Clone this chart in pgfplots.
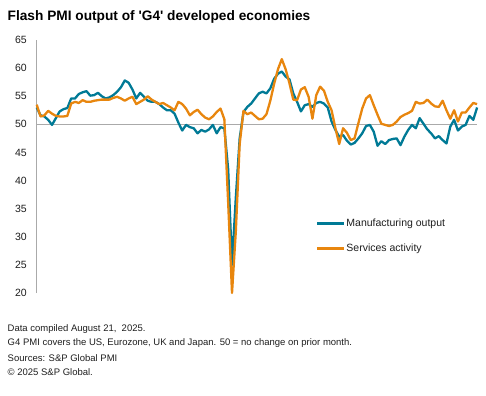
\documentclass[border=0pt]{standalone}
\usepackage{fontspec}
\setmainfont{Liberation Sans}
\usepackage{pgfplots}
\usepackage{pgfplotstable}
\pgfplotsset{compat=1.18}
\definecolor{manu}{RGB}{0,122,150}
\definecolor{serv}{RGB}{232,134,14}
\definecolor{refgray}{RGB}{170,170,170}
\definecolor{txt}{RGB}{30,30,30}

\pgfplotstableread{
m v
0 53.0
1 51.6
2 51.4
3 50.8
4 49.9
5 51.1
6 52.3
7 52.7
8 52.9
9 54.6
10 54.6
11 55.4
12 55.7
13 55.9
14 55.1
15 55.2
16 55.6
17 55.0
18 54.6
19 54.8
20 55.2
21 55.8
22 56.6
23 57.8
24 57.4
25 56.2
26 54.6
27 55.6
28 54.9
29 54.2
30 54.0
31 54.0
32 53.6
33 53.0
34 52.5
35 52.5
36 51.9
37 50.3
38 48.9
39 49.9
40 49.5
41 49.3
42 48.4
43 49.0
44 48.7
45 49.1
46 49.9
47 48.4
48 49.5
49 49.3
50 42.0
51 25.0
52 37.0
53 47.5
54 52.2
55 53.1
56 53.7
57 54.6
58 55.5
59 55.8
60 55.5
61 56.4
62 58.1
63 59.0
64 59.4
65 58.5
66 58.0
67 55.5
68 54.0
69 52.3
70 53.4
71 53.6
72 53.1
73 53.8
74 54.0
75 53.7
76 53.0
77 50.5
78 49.0
79 47.8
80 48.1
81 47.1
82 46.4
83 46.7
84 47.5
85 48.4
86 49.7
87 49.9
88 48.7
89 46.2
90 47.0
91 46.5
92 47.2
93 47.4
94 47.5
95 46.3
96 47.8
97 49.0
98 49.9
99 49.3
100 51.1
101 50.1
102 49.1
103 48.4
104 47.5
105 47.9
106 47.2
107 46.6
108 49.6
109 50.8
110 48.9
111 49.6
112 49.9
113 51.5
114 50.8
115 53.0
}\manutable

\pgfplotstableread{
m v
0 53.5
1 51.4
2 51.6
3 52.4
4 51.9
5 51.5
6 51.4
7 51.4
8 51.5
9 53.7
10 54.0
11 53.8
12 54.3
13 54.0
14 54.0
15 54.2
16 54.3
17 54.4
18 54.4
19 54.4
20 54.7
21 54.9
22 54.6
23 54.2
24 54.6
25 54.9
26 53.6
27 54.0
28 54.4
29 55.0
30 54.4
31 54.0
32 53.6
33 53.8
34 53.4
35 53.0
36 52.5
37 54.0
38 53.6
39 52.8
40 51.6
41 52.2
42 52.6
43 51.8
44 51.2
45 50.9
46 51.4
47 52.2
48 52.8
49 50.9
50 36.0
51 20.0
52 31.0
53 46.5
54 52.4
55 51.8
56 52.1
57 51.5
58 50.9
59 51.0
60 51.8
61 54.2
62 57.2
63 59.8
64 61.6
65 59.8
66 57.3
67 54.4
68 54.3
69 56.2
70 56.6
71 54.9
72 51.0
73 55.2
74 56.7
75 56.0
76 54.0
77 52.5
78 49.3
79 46.5
80 49.3
81 48.5
82 47.2
83 47.5
84 50.2
85 52.8
86 54.6
87 55.2
88 53.4
89 51.7
90 50.1
91 49.9
92 49.7
93 49.9
94 50.5
95 51.3
96 51.7
97 52.0
98 52.4
99 54.0
100 53.7
101 53.8
102 54.4
103 53.7
104 53.2
105 53.1
106 54.2
107 52.5
108 51.0
109 52.5
110 50.5
111 52.1
112 52.1
113 53.0
114 53.8
115 53.6
}\servtable

\begin{document}
\begin{tikzpicture}
\path[use as bounding box] (0,0) rectangle (486bp,-396bp);
\node[anchor=west, font=\fontsize{13.7bp}{16bp}\selectfont\bfseries, text=black, inner sep=0] at (7.5bp,-17bp) {Flash PMI output of \textquotesingle G4\textquotesingle{} developed economies};
\begin{axis}[
  scale only axis,
  width=440.4bp, height=253bp,
  at={(36.7bp,-293bp)}, anchor=south west,
  xmin=0, xmax=115, ymin=20, ymax=65,
  axis x line=none,
  axis y line*=left,
  y axis line style={draw=refgray, line width=0.8bp},
  ytick={20,25,...,65},
  xtick={0,12,...,108},
  xticklabels={2016,2017,2018,2019,2020,2021,2022,2023,2024,2025},
  major tick length=0pt,
  tick style={draw=none},
  /pgf/number format/assume math mode=true,
  ticklabel style={font=\fontsize{10.5bp}{12bp}\selectfont, text=txt},
  yticklabel style={xshift=-6.5bp},
  clip=false,
  legend style={draw=none, fill=none, at={(0.634,0.298)}, anchor=north west,
    font=\fontsize{10.5bp}{12bp}\selectfont, text=txt, row sep=14bp,
    inner sep=0pt, nodes={inner sep=1bp}},
  legend cell align=left,
  legend image code/.code={\draw[#1] (-2bp,0bp) -- (25bp,0bp);},
]
\addplot[refgray, line width=0.9bp, forget plot] coordinates {(0,50) (115,50)};
\addplot[manu, line width=2.3bp, line join=round] table[x=m,y=v] {\manutable};
\addlegendentry{Manufacturing output}
\addplot[serv, line width=2.3bp, line join=round] table[x=m,y=v] {\servtable};
\addlegendentry{Services activity}
\end{axis}
\begin{scope}[every node/.style={anchor=west, inner sep=0, font=\fontsize{9.5bp}{11bp}\selectfont, text=txt}]
\node at (7.5bp,-329bp) {Data compiled August 21,\ \ 2025.};
\node at (7.5bp,-343.5bp) {G4 PMI covers the US, Eurozone, UK and Japan. 50 = no change on prior month.};
\node at (7.5bp,-358bp) {Sources: S\&P Global PMI};
\node at (7.5bp,-372.5bp) {\textcopyright{} 2025 S\&P Global.};
\end{scope}
\end{tikzpicture}
\end{document}
